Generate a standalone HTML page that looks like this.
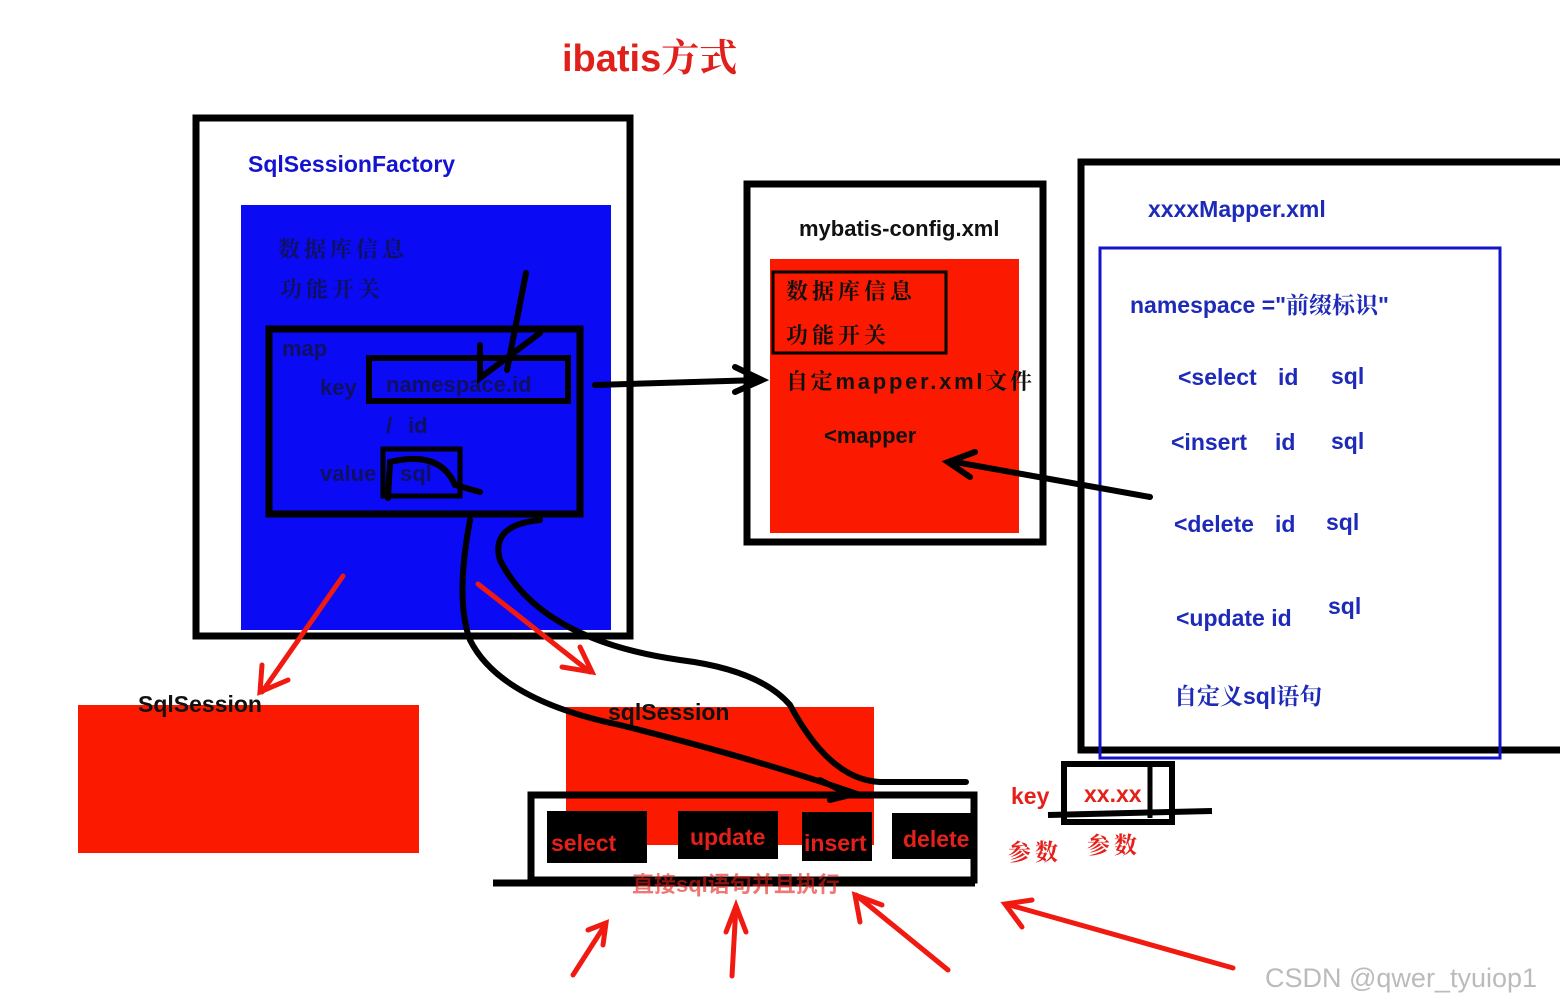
<!DOCTYPE html>
<html><head><meta charset="utf-8"><style>
html,body{margin:0;padding:0;background:#fff;width:1560px;height:1005px;overflow:hidden}
svg{display:block}
text{font-family:"Liberation Sans","Noto Sans CJK SC",sans-serif;font-weight:bold}
.s{font-family:"Noto Serif CJK SC","Liberation Serif",serif;letter-spacing:4px}
</style></head><body>
<svg width="1560" height="1005" viewBox="0 0 1560 1005" xmlns="http://www.w3.org/2000/svg">
<text x="562" y="71" font-size="38" fill="#e0201a">ibatis<tspan class="s" style="letter-spacing:0">方式</tspan></text>

<!-- SqlSessionFactory -->
<rect x="196" y="118" width="434" height="518" fill="#fff" stroke="#000" stroke-width="7"/>
<rect x="241" y="205" width="370" height="425" fill="#0a0af5"/>
<text x="248" y="172" font-size="23" fill="#1414d0">SqlSessionFactory</text>
<text x="278" y="257" font-size="22" fill="#101060" class="s">数据库信息</text>
<text x="280" y="297" font-size="22" fill="#101060" class="s">功能开关</text>
<rect x="269" y="329" width="311" height="185" fill="none" stroke="#000" stroke-width="7"/>
<text x="282" y="356" font-size="22" fill="#101060">map</text>
<text x="320" y="395" font-size="22" fill="#101060">key</text>
<rect x="369" y="358" width="199" height="43" fill="none" stroke="#000" stroke-width="6"/>
<text x="386" y="392" font-size="22" fill="#101060">namespace.id</text>
<text x="386" y="433" font-size="22" fill="#101060">/</text>
<text x="408" y="433" font-size="22" fill="#101060">id</text>
<text x="320" y="481" font-size="22" fill="#101060">value</text>
<rect x="383" y="449" width="77" height="47" fill="none" stroke="#000" stroke-width="5"/>
<text x="400" y="481" font-size="22" fill="#101060">sql</text>
<g fill="none" stroke="#000" stroke-width="6" stroke-linecap="round">
<path d="M526 273 L507 370"/><path d="M480 345 L480 378 L540 333"/>
<path d="M388 498 L390 462 Q440 450 455 485 L480 492"/>
</g>

<!-- mybatis-config -->
<rect x="747" y="184" width="296" height="358" fill="#fff" stroke="#000" stroke-width="7"/>
<rect x="770" y="259" width="249" height="274" fill="#fb1a00"/>
<rect x="773" y="272" width="173" height="81" fill="none" stroke="#000" stroke-width="3"/>
<text x="799" y="236" font-size="22" fill="#111">mybatis-config.xml</text>
<text x="786" y="299" font-size="22" fill="#111" class="s">数据库信息</text>
<text x="786" y="343" font-size="22" fill="#111" class="s">功能开关</text>
<text x="786" y="389" font-size="22" fill="#111" textLength="246"><tspan class="s" style="letter-spacing:0">自定</tspan>mapper.xml<tspan class="s" style="letter-spacing:0">文件</tspan></text>
<text x="824" y="443" font-size="22" fill="#111">&lt;mapper</text>

<!-- Mapper xml -->
<rect x="1081" y="162" width="490" height="588" fill="#fff" stroke="#000" stroke-width="7"/>
<rect x="1100" y="248" width="400" height="510" fill="none" stroke="#1414c8" stroke-width="3"/>
<g font-size="23" fill="#1e2ab8">
<text x="1148" y="217">xxxxMapper.xml</text>
<text x="1130" y="313">namespace ="<tspan class="s" style="letter-spacing:0">前缀标识</tspan>"</text>
<text x="1178" y="385">&lt;select</text><text x="1278" y="385">id</text><text x="1331" y="384">sql</text>
<text x="1171" y="450">&lt;insert</text><text x="1275" y="450">id</text><text x="1331" y="449">sql</text>
<text x="1174" y="532">&lt;delete</text><text x="1275" y="532">id</text><text x="1326" y="530">sql</text>
<text x="1176" y="626">&lt;update id</text>
<text x="1328" y="614">sql</text>
<text x="1174" y="704"><tspan class="s" style="letter-spacing:0">自定义</tspan>sql<tspan class="s" style="letter-spacing:0">语句</tspan></text>
</g>

<!-- bottom -->
<rect x="78" y="705" width="341" height="148" fill="#fb1a00"/>
<text x="138" y="712" font-size="23" fill="#111">SqlSession</text>
<rect x="566" y="707" width="308" height="138" fill="#fb1a00"/>
<text x="608" y="720" font-size="23" fill="#111">sqlSession</text>
<rect x="531" y="795" width="443" height="85" fill="none" stroke="#000" stroke-width="7"/>
<line x1="493" y1="883" x2="975" y2="883" stroke="#000" stroke-width="7"/>
<rect x="547" y="811" width="100" height="52" fill="#000"/>
<rect x="678" y="811" width="100" height="48" fill="#000"/>
<rect x="802" y="812" width="70" height="49" fill="#000"/>
<rect x="892" y="813" width="80" height="46" fill="#000"/>
<g font-size="23" fill="#e5201a">
<text x="551" y="851">select</text>
<text x="690" y="845">update</text>
<text x="804" y="851">insert</text>
<text x="903" y="847">delete</text>
<text x="632" y="892" font-size="22" opacity="0.6">直接sql语句并且执行</text>
<text x="1011" y="804">key</text>
<text x="1084" y="802">xx.xx</text>
<text x="1008" y="860" class="s">参数</text>
<text x="1087" y="853" class="s">参数</text>
</g>
<rect x="1064" y="764" width="108" height="58" fill="none" stroke="#000" stroke-width="6"/>
<line x1="1150" y1="764" x2="1150" y2="818" stroke="#000" stroke-width="5"/>
<line x1="1048" y1="815" x2="1212" y2="811" stroke="#000" stroke-width="6"/>

<!-- black strokes -->
<g fill="none" stroke="#000" stroke-width="6" stroke-linecap="round">
<path d="M595 385 L760 380"/><path d="M735 367 L762 380 L735 392"/>
<path d="M1150 497 L955 462"/><path d="M975 452 L948 462 L970 477"/>
<path d="M470 520 Q455 600 470 640 Q500 700 620 725 Q760 760 860 795"/>
<path d="M540 520 Q490 525 500 560 Q540 640 680 660 Q760 670 790 705 Q830 780 880 782 L966 782"/>
<path d="M820 780 L850 795 L830 800"/>
</g>
<!-- red arrows -->
<g fill="none" stroke="#f01a10" stroke-width="5" stroke-linecap="round">
<path d="M343 576 L262 692"/><path d="M262 665 L260 692 L288 680"/>
<path d="M478 584 L590 672"/><path d="M562 667 L592 672 L580 647"/>
<path d="M573 975 L605 925"/><path d="M588 930 L606 923 L603 945"/>
<path d="M732 976 L736 906"/><path d="M726 932 L736 906 L746 932"/>
<path d="M948 970 L856 895"/><path d="M860 922 L855 895 L882 905"/>
<path d="M1233 968 L1006 904"/><path d="M1022 927 L1005 904 L1032 900"/>
</g>
<text x="1265" y="987" font-size="27" fill="#bbb" style="font-weight:normal">CSDN @qwer_tyuiop1</text>
</svg>
</body></html>
